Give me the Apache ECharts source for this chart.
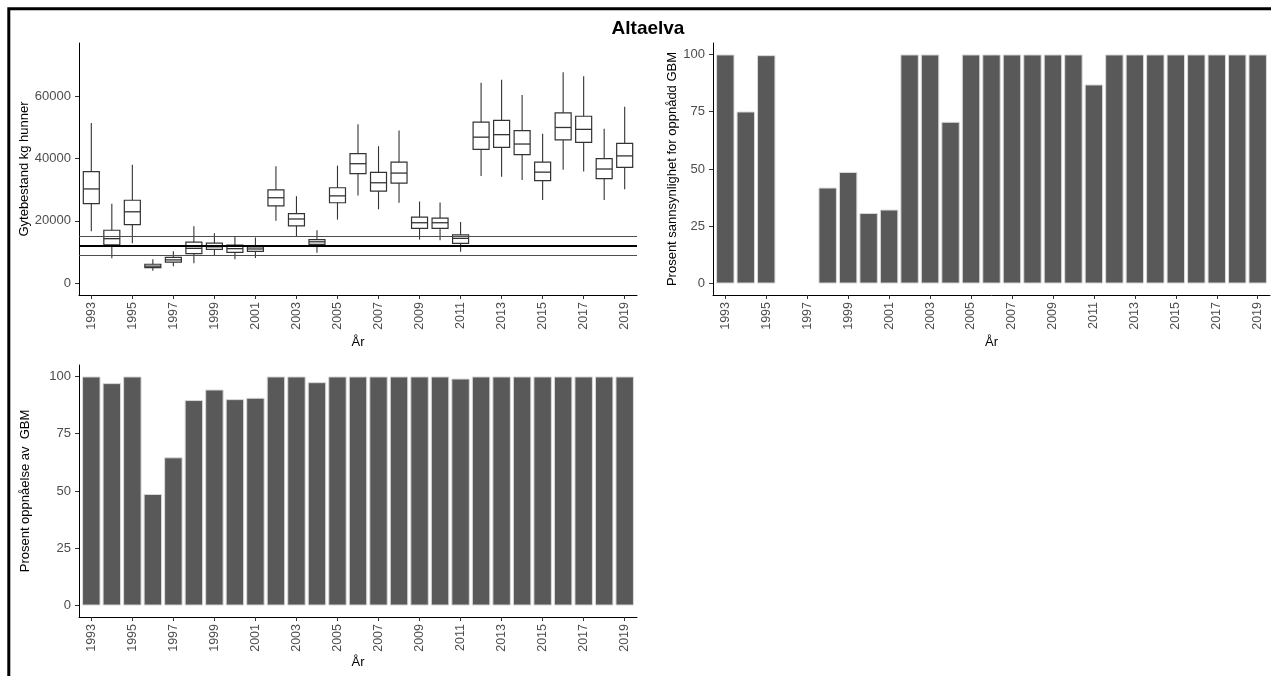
<!DOCTYPE html>
<html>
<head>
<meta charset="utf-8">
<script src="https://cdn.jsdelivr.net/npm/echarts@6/dist/echarts.min.js"></script>
<style>
  html, body { margin: 0; padding: 0; background: #fff; }
  #chart { width: 1271px; height: 676px; }
</style>
</head>
<body>
<div id="chart"></div>
<script>
// Spawning stock (kg females) per year: whiskers, quartiles and median
const years = [1993, 1994, 1995, 1996, 1997, 1998, 1999, 2000, 2001, 2002, 2003, 2004, 2005, 2006,
               2007, 2008, 2009, 2010, 2011, 2012, 2013, 2014, 2015, 2016, 2017, 2018, 2019];
const whiskerLow  = [16700, 8000, 12800, 4000, 5500, 6400, 8900, 7700, 8100, 20000, 14900, 9800, 20400, 28100,
                     23700, 25800, 14000, 13800, 10100, 34400, 34100, 33100, 26700, 36400, 35800, 26700, 30100];
const boxLow      = [25550, 12300, 18800, 5000, 6800, 9500, 10900, 9900, 10200, 24800, 18400, 12500, 25800, 35100,
                     29500, 32100, 17600, 17600, 12800, 42900, 43500, 41200, 32900, 45900, 45100, 33500, 37100];
const median      = [30220, 14300, 22900, 5500, 7500, 11200, 11700, 11100, 11000, 27400, 20600, 13300, 28000, 38300,
                     32200, 35300, 19400, 19400, 14400, 46800, 47600, 44600, 35600, 49900, 49300, 36600, 40800];
const boxHigh     = [35750, 17000, 26600, 6100, 8300, 13200, 12900, 12200, 11700, 29900, 22300, 14000, 30600, 41500,
                     35500, 38800, 21200, 20900, 15500, 51600, 52200, 48900, 38800, 54600, 53500, 39900, 44800];
const whiskerHigh = [51300, 25500, 38000, 7700, 10300, 18300, 16000, 14900, 14700, 37500, 27900, 17000, 37700, 50900,
                     43900, 48900, 26200, 25900, 19600, 64200, 65200, 60300, 47900, 67600, 66300, 49500, 56500];

// Spawning target (GBM) with its lower and upper bounds
const gbmLower = 9000;
const gbmTarget = 12000;
const gbmUpper = 15000;

// Percent probability of reaching the target (missing years are null)
const probReached = [100, 75.1, 99.7, null, null, 41.9, 48.7, 30.8, 32.3, 100, 100, 70.6, 100, 100,
                     100, 100, 100, 100, 86.9, 100, 100, 100, 100, 100, 100, 100, 100];
// Percent attainment of the target
const pctAttained = [100, 97.1, 100, 48.7, 64.7, 89.7, 94.3, 90.1, 90.7, 100, 100, 97.5, 100, 100,
                     100, 100, 100, 100, 99.1, 100, 100, 100, 100, 100, 100, 100, 100];

// Tick labels
const yearTicks = [1993, 1995, 1997, 1999, 2001, 2003, 2005, 2007, 2009, 2011, 2013, 2015, 2017, 2019];
const stockTicks = [0, 20000, 40000, 60000];
const pctTicks = [0, 25, 50, 75, 100];

const FONT = '"Liberation Sans", Arial, Helvetica, sans-serif';
const chart = echarts.init(document.getElementById('chart'), null, { renderer: 'canvas' });

function xAxisFor(gridIndex, nameGap) {
  return {
    type: 'value', gridIndex, min: 1992.4, max: 2019.6,
    name: 'År', nameLocation: 'middle', nameGap,
    nameTextStyle: { color: '#000', fontSize: 13, fontFamily: FONT },
    axisLine: { show: true, onZero: false, lineStyle: { color: '#000', width: 1 } },
    axisTick: { show: true, length: 4, customValues: yearTicks, lineStyle: { color: '#333', width: 1 } },
    axisLabel: { show: true, rotate: 90, margin: 7, color: '#4d4d4d', fontSize: 12.5, fontFamily: FONT,
                 customValues: yearTicks, formatter: v => String(v) },
    splitLine: { show: false }
  };
}
function yAxisFor(gridIndex, min, max, ticks, name, nameGap) {
  return {
    type: 'value', gridIndex, min, max,
    name, nameLocation: 'middle', nameGap,
    nameTextStyle: { color: '#000', fontSize: 13, fontFamily: FONT },
    axisLine: { show: true, onZero: false, lineStyle: { color: '#000', width: 1 } },
    axisTick: { show: true, length: 4, customValues: ticks, lineStyle: { color: '#333', width: 1 } },
    axisLabel: { show: true, margin: 8, color: '#4d4d4d', fontSize: 13, fontFamily: FONT,
                 customValues: ticks, formatter: v => String(v) },
    splitLine: { show: false }
  };
}

const boxData = years.map((y, i) => [y, whiskerLow[i], boxLow[i], median[i], boxHigh[i], whiskerHigh[i]]);
const barData = (vals) => years.map((y, i) => [y, vals[i]]).filter(d => d[1] !== null);

const barStyle = {
  type: 'bar', barWidth: '90%', animation: false, silent: true,
  itemStyle: { color: '#595959', borderColor: '#d9d9d9', borderWidth: 1 }
};

const option = {
  animation: false,
  backgroundColor: '#fff',
  textStyle: { fontFamily: FONT },
  title: {
    text: 'Altaelva', left: 643, top: 14, textAlign: 'center',
    textStyle: { fontSize: 19, fontWeight: 'bold', color: '#000', fontFamily: FONT }
  },
  grid: [
    { left: 79, right: 634, top: 43, bottom: 381, outerBoundsMode: 'none', containLabel: false },
    { left: 713, right: 1, top: 43, bottom: 381, outerBoundsMode: 'none', containLabel: false },
    { left: 79, right: 634, top: 365, bottom: 59, outerBoundsMode: 'none', containLabel: false }
  ],
  xAxis: [xAxisFor(0, 41), xAxisFor(1, 41), xAxisFor(2, 39)],
  yAxis: [
    yAxisFor(0, -3740, 76950, stockTicks, 'Gytebestand kg hunner', 47),
    yAxisFor(1, -5, 105, pctTicks, 'Prosent sannsynlighet for oppnådd GBM', 32),
    yAxisFor(2, -5, 105, pctTicks, 'Prosent oppnåelse av  GBM', 47)
  ],
  series: [
    {
      type: 'custom', xAxisIndex: 0, yAxisIndex: 0, silent: true,
      data: boxData,
      renderItem(params, api) {
        const x = api.value(0);
        const lo = api.coord([x, api.value(1)]);
        const q1 = api.coord([x, api.value(2)]);
        const md = api.coord([x, api.value(3)]);
        const q3 = api.coord([x, api.value(4)]);
        const hi = api.coord([x, api.value(5)]);
        const half = api.size([0.78, 0])[0] / 2;
        const stroke = '#333';
        return {
          type: 'group',
          children: [
            { type: 'line', shape: { x1: lo[0], y1: lo[1], x2: hi[0], y2: hi[1] },
              style: { stroke, lineWidth: 1.1 } },
            { type: 'rect', shape: { x: q3[0] - half, y: q3[1], width: half * 2, height: q1[1] - q3[1] },
              style: { fill: '#fff', stroke, lineWidth: 1.2 } },
            { type: 'line', shape: { x1: md[0] - half, y1: md[1], x2: md[0] + half, y2: md[1] },
              style: { stroke, lineWidth: 1.3 } }
          ]
        };
      },
      markLine: {
        silent: true, symbol: 'none', animation: false, label: { show: false },
        data: [
          { yAxis: gbmUpper, lineStyle: { color: '#4d4d4d', width: 1, type: 'solid' } },
          { yAxis: gbmTarget, lineStyle: { color: '#000', width: 2, type: 'solid' } },
          { yAxis: gbmLower, lineStyle: { color: '#4d4d4d', width: 1, type: 'solid' } }
        ]
      }
    },
    Object.assign({}, barStyle, { xAxisIndex: 1, yAxisIndex: 1, data: barData(probReached) }),
    Object.assign({}, barStyle, { xAxisIndex: 2, yAxisIndex: 2, data: barData(pctAttained) })
  ],
  graphic: [
    { type: 'polyline', silent: true, z: 100,
      shape: { points: [[8.8, 676], [8.8, 8.8], [1271, 8.8]] },
      style: { stroke: '#000', lineWidth: 3, fill: null } }
  ]
};

chart.setOption(option);
</script>
</body>
</html>
